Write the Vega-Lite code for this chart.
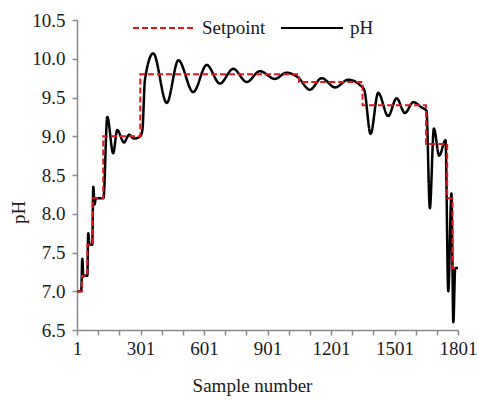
{
  "$schema": "https://vega.github.io/schema/vega-lite/v6.json",
  "width": 381,
  "height": 310,
  "autosize": "none",
  "padding": {"left": 77, "top": 20, "right": 21, "bottom": 73},
  "background": "white",
  "config": {
    "view": {"stroke": null},
    "font": "Liberation Serif",
    "axis": {"grid": false, "domainColor": "#8a8a8a", "tickColor": "#8a8a8a", "labelFont": "Liberation Serif", "titleFont": "Liberation Serif", "labelColor": "#1a1a1a", "titleColor": "#1a1a1a", "labelFontSize": 18, "titleFontSize": 18, "titleFontWeight": "normal", "domainWidth": 1.5, "tickWidth": 1.5, "tickSize": 5}
  },
  "datasets": {
    "sp": [
      {"sample": 1, "value": 7.0, "series": "Setpoint"},
      {"sample": 25, "value": 7.2, "series": "Setpoint"},
      {"sample": 50, "value": 7.6, "series": "Setpoint"},
      {"sample": 75, "value": 8.2, "series": "Setpoint"},
      {"sample": 125, "value": 9.0, "series": "Setpoint"},
      {"sample": 300, "value": 9.8, "series": "Setpoint"},
      {"sample": 1050, "value": 9.7, "series": "Setpoint"},
      {"sample": 1350, "value": 9.4, "series": "Setpoint"},
      {"sample": 1650, "value": 8.9, "series": "Setpoint"},
      {"sample": 1750, "value": 8.2, "series": "Setpoint"},
      {"sample": 1775, "value": 7.3, "series": "Setpoint"},
      {"sample": 1801, "value": 7.3, "series": "Setpoint"}
    ],
    "ph": [
      {"sample": 1, "value": 7.0, "series": "pH"},
      {"sample": 21, "value": 7.0, "series": "pH"},
      {"sample": 26, "value": 7.42, "series": "pH"},
      {"sample": 31, "value": 7.19, "series": "pH"},
      {"sample": 36, "value": 7.2, "series": "pH"},
      {"sample": 50, "value": 7.2, "series": "pH"},
      {"sample": 54, "value": 7.75, "series": "pH"},
      {"sample": 60, "value": 7.6, "series": "pH"},
      {"sample": 73, "value": 7.6, "series": "pH"},
      {"sample": 78, "value": 8.35, "series": "pH"},
      {"sample": 84, "value": 8.12, "series": "pH"},
      {"sample": 90, "value": 8.2, "series": "pH"},
      {"sample": 126, "value": 8.2, "series": "pH"},
      {"sample": 144, "value": 9.25, "series": "pH"},
      {"sample": 172, "value": 8.78, "series": "pH"},
      {"sample": 191, "value": 9.08, "series": "pH"},
      {"sample": 223, "value": 8.92, "series": "pH"},
      {"sample": 247, "value": 9.02, "series": "pH"},
      {"sample": 270, "value": 8.97, "series": "pH"},
      {"sample": 300, "value": 9.0, "series": "pH"},
      {"sample": 310, "value": 9.08, "series": "pH"},
      {"sample": 322, "value": 9.73, "series": "pH"},
      {"sample": 361, "value": 10.07, "series": "pH"},
      {"sample": 425, "value": 9.43, "series": "pH"},
      {"sample": 480, "value": 9.98, "series": "pH"},
      {"sample": 550, "value": 9.57, "series": "pH"},
      {"sample": 614, "value": 9.92, "series": "pH"},
      {"sample": 676, "value": 9.68, "series": "pH"},
      {"sample": 739, "value": 9.87, "series": "pH"},
      {"sample": 803, "value": 9.7, "series": "pH"},
      {"sample": 865, "value": 9.84, "series": "pH"},
      {"sample": 936, "value": 9.74, "series": "pH"},
      {"sample": 990, "value": 9.82, "series": "pH"},
      {"sample": 1045, "value": 9.76, "series": "pH"},
      {"sample": 1101, "value": 9.6, "series": "pH"},
      {"sample": 1157, "value": 9.75, "series": "pH"},
      {"sample": 1220, "value": 9.63, "series": "pH"},
      {"sample": 1283, "value": 9.73, "series": "pH"},
      {"sample": 1338, "value": 9.66, "series": "pH"},
      {"sample": 1358, "value": 9.6, "series": "pH"},
      {"sample": 1388, "value": 9.03, "series": "pH"},
      {"sample": 1424, "value": 9.56, "series": "pH"},
      {"sample": 1471, "value": 9.26, "series": "pH"},
      {"sample": 1511, "value": 9.49, "series": "pH"},
      {"sample": 1550, "value": 9.3, "series": "pH"},
      {"sample": 1590, "value": 9.44, "series": "pH"},
      {"sample": 1630, "value": 9.37, "series": "pH"},
      {"sample": 1652, "value": 9.33, "series": "pH"},
      {"sample": 1668, "value": 8.07, "series": "pH"},
      {"sample": 1687, "value": 9.1, "series": "pH"},
      {"sample": 1712, "value": 8.75, "series": "pH"},
      {"sample": 1742, "value": 8.95, "series": "pH"},
      {"sample": 1755, "value": 7.0, "series": "pH"},
      {"sample": 1770, "value": 8.26, "series": "pH"},
      {"sample": 1779, "value": 6.6, "series": "pH"},
      {"sample": 1788, "value": 7.3, "series": "pH"},
      {"sample": 1801, "value": 7.3, "series": "pH"}
    ]
  },
  "encoding": {
    "x": {
      "field": "sample", "type": "quantitative",
      "scale": {"domain": [1, 1801], "nice": false, "zero": false},
      "axis": {
        "title": "Sample number",
        "values": [1, 101, 201, 301, 401, 501, 601, 701, 801, 901, 1001, 1101, 1201, 1301, 1401, 1501, 1601, 1701, 1801],
        "labelExpr": "(datum.value - 1) % 300 == 0 ? datum.label : ''",
        "format": "d",
        "labelFont": "Liberation Serif",
        "labelFontSize": 19,
        "labelPadding": 4,
        "labelFlush": false,
        "labelOverlap": false,
        "titleFont": "Liberation Serif",
        "titleFontSize": 19,
        "titleX": 175,
        "titleY": 61,
        "titleBaseline": "alphabetic"
      }
    },
    "y": {
      "field": "value", "type": "quantitative",
      "scale": {"domain": [6.5, 10.5], "nice": false, "zero": false},
      "axis": {
        "title": "pH",
        "values": [6.5, 7.0, 7.5, 8.0, 8.5, 9.0, 9.5, 10.0, 10.5],
        "format": ".1f",
        "labelFont": "Liberation Serif",
        "labelFontSize": 19,
        "labelPadding": 7,
        "labelFlush": false,
        "labelOverlap": false,
        "titleFont": "Liberation Serif",
        "titleFontSize": 19,
        "titleX": -59,
        "titleY": 192,
        "titleAngle": -90,
        "titleAlign": "center",
        "titleBaseline": "middle"
      }
    },
    "color": {
      "field": "series", "type": "nominal",
      "scale": {"domain": ["Setpoint", "pH"], "range": ["#e8141b", "#000000"]},
      "legend": {
        "title": null,
        "orient": "none",
        "legendX": 55,
        "legendY": -24,
        "direction": "horizontal",
        "symbolType": "stroke",
        "symbolSize": 3844,
        "symbolStrokeWidth": 2,
        "labelFont": "Liberation Serif",
        "labelFontSize": 19,
        "labelColor": "#1a1a1a",
        "labelOffset": 6,
        "columnPadding": 11
      }
    },
    "strokeDash": {
      "field": "series", "type": "nominal",
      "scale": {"domain": ["Setpoint", "pH"], "range": [[6, 3], [1, 0]]},
      "legend": null
    }
  },
  "layer": [
    {
      "data": {"name": "ph"},
      "mark": {"type": "line", "interpolate": "monotone", "strokeWidth": 2.5}
    },
    {
      "data": {"name": "sp"},
      "mark": {"type": "line", "interpolate": "step-after", "strokeWidth": 2}
    }
  ]
}
